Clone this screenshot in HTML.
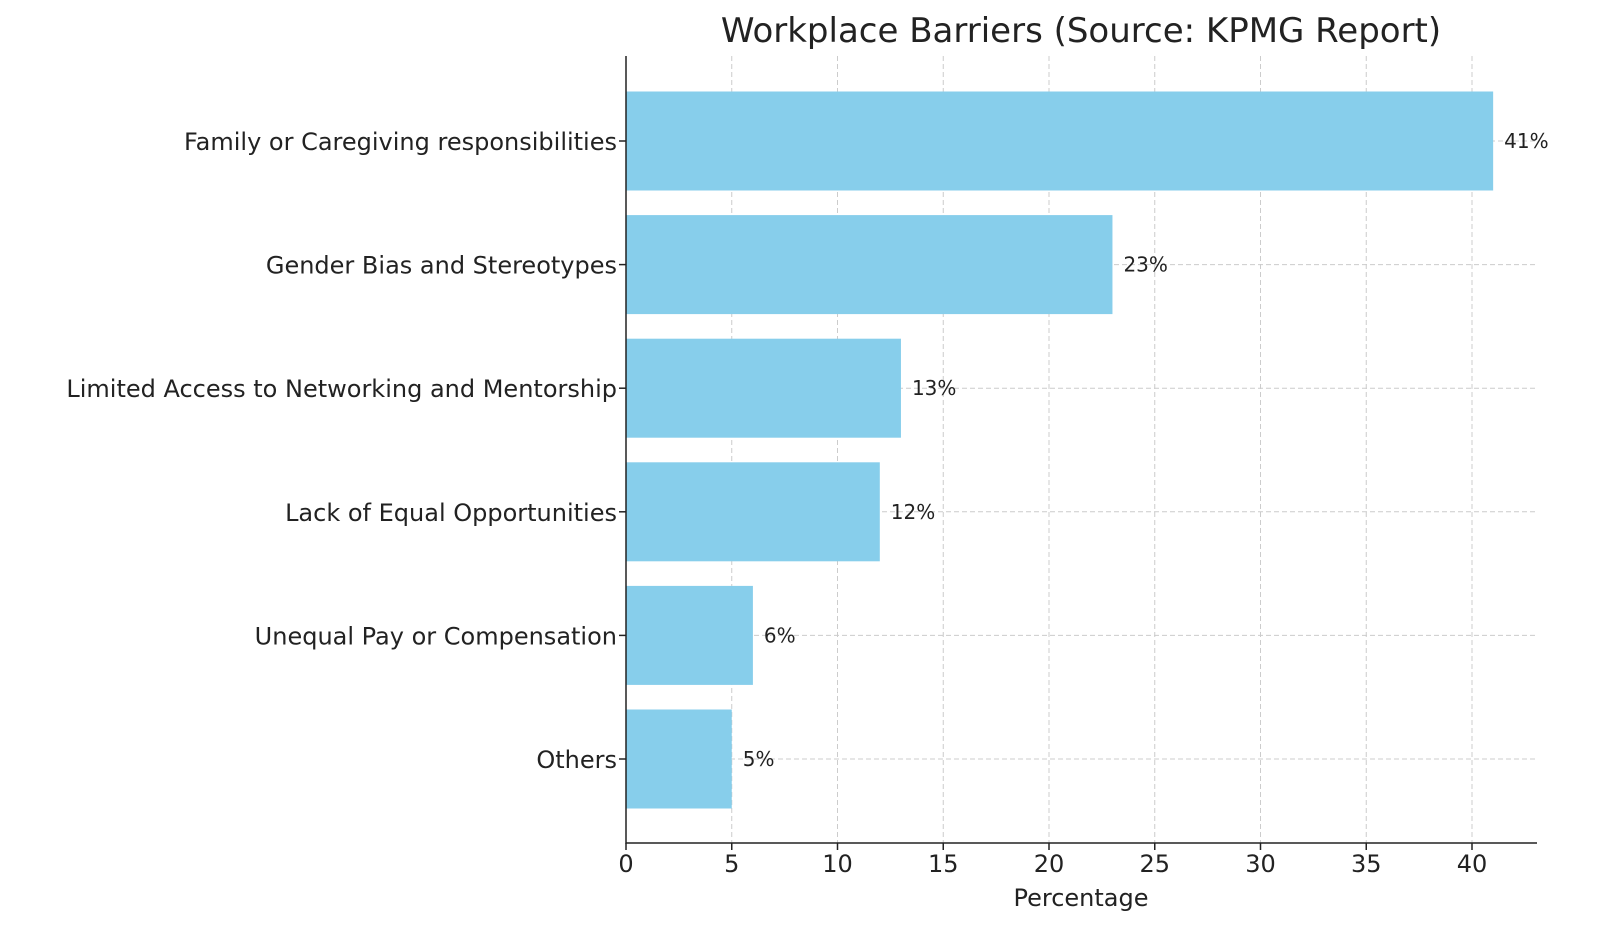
<!DOCTYPE html>
<html><head><meta charset="utf-8"><style>
body{margin:0;background:#fff;}
svg text{font-family:"DejaVu Sans","Liberation Sans",sans-serif;fill:#222;}
</style></head><body>
<svg width="1600" height="947" viewBox="0 0 1600 947">
<g id="grid"></g><g id="bars"></g><g id="axes"></g>
<text x="1081" y="42" font-size="34" text-anchor="middle">Workplace Barriers (Source: KPMG Report)</text>
<text x="1081" y="906" font-size="24" text-anchor="middle">Percentage</text>
</svg>
<script>
const categories=["Family or Caregiving responsibilities","Gender Bias and Stereotypes","Limited Access to Networking and Mentorship","Lack of Equal Opportunities","Unequal Pay or Compensation","Others"];
const values=[41,23,13,12,6,5];
const xTicks=[0,5,10,15,20,25,30,35,40];
const NS="http://www.w3.org/2000/svg";
const L=626,R=1537,T=56,B=843;
const xs=v=>L+v*21.15;
const y0=141,step=123.6,bh=99;
const ys=i=>y0+i*step;
function mk(t,a,p){const e=document.createElementNS(NS,t);for(const k in a)e.setAttribute(k,a[k]);p.appendChild(e);return e;}
const grid=document.getElementById('grid'),bars=document.getElementById('bars'),axes=document.getElementById('axes');
xTicks.forEach(t=>{
 const g=mk('line',{x1:xs(t),x2:xs(t),y1:T,y2:B,stroke:'#ccc','stroke-dasharray':'5,3','stroke-width':1},grid);
 
 
 const tk=mk('line',{x1:xs(t),x2:xs(t),y1:B,y2:B+7,stroke:'#222','stroke-width':1.5},axes);
 
 
 const tx=mk('text',{x:xs(t),y:B+29,'font-size':24,'text-anchor':'middle'},axes);
 tx.textContent=t;
 
 
});
categories.forEach((c,i)=>{
 const y=ys(i);
 const g=mk('line',{x1:L,x2:R,y1:y,y2:y,stroke:'#ccc','stroke-dasharray':'5,3','stroke-width':1},grid);
 
 
 const b=mk('rect',{x:L,y:y-bh/2,width:xs(values[i])-L,height:bh,fill:'#87ceeb'},bars);
 
 
 const v=mk('text',{x:xs(values[i])+11,y:y+7,'font-size':20},bars);
 v.textContent=values[i]+'%';
 
 
 const tk=mk('line',{x1:L-7,x2:L,y1:y,y2:y,stroke:'#222','stroke-width':1.5},axes);
 
 
 const t=mk('text',{x:L-9,y:y+9,'font-size':24,'text-anchor':'end'},axes);
 t.textContent=c;
 
 
});
const ax=mk('path',{d:`M${L},${T}V${B}H${R}`,fill:'none',stroke:'#222','stroke-width':1.5},axes);


</script>
</body></html>
